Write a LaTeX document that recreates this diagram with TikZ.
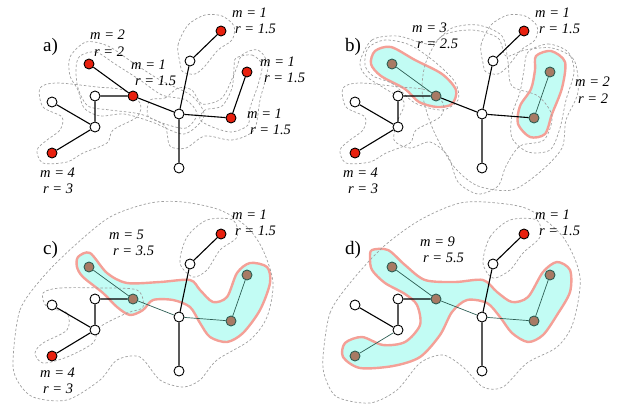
\documentclass[tikz,border=0pt]{standalone}
\usepackage{fontspec}
\setmainfont{Liberation Serif}
\definecolor{nodered}{HTML}{E8200E}
\definecolor{nodebrn}{HTML}{A87A64}
\definecolor{nodeteal}{HTML}{2D5E54}
\definecolor{clusfill}{HTML}{C2FCF4}
\definecolor{clusedge}{HTML}{F4A097}
\tikzset{
  tnode/.style={circle,draw,line width=0.9pt,inner sep=0pt,minimum size=10pt,fill=white},
  rednd/.style={fill=nodered},
  brnnd/.style={fill=nodebrn,draw=nodeteal},
  tree/.style={line width=1.1pt},
  clus/.style={draw=nodeteal,line width=0.7pt},
  ball/.style={draw=gray!75,dash pattern=on 2.5pt off 2pt,line width=0.7pt},
  merged/.style={fill=clusfill,draw=clusedge,line width=2.4pt},
  lbl/.style={font=\fontsize{14.5}{16.5}\selectfont\itshape,align=left,anchor=west,inner sep=0pt},
  panel/.style={font=\fontsize{19}{19}\selectfont,anchor=west,inner sep=0pt}
}
\begin{document}
\begin{tikzpicture}[x=1pt,y=-1pt]
\useasboundingbox (0,0) rectangle (628,407);
% a) balls of single nodes
\draw[ball] plot[smooth cycle] coordinates {(180,63) (178,45) (188,25) (205,15) (222,16) (234,26) (232,40) (218,50) (205,66) (195,74) (183,72)};
\draw[ball] plot[smooth cycle] coordinates {(236,58) (252,55) (262,65) (258,85) (250,108) (248,125) (232,132) (215,128) (200,120) (205,110) (222,106) (232,88) (234,68)};
\draw[ball] plot[smooth cycle] coordinates {(150,100) (165,98) (178,88) (192,90) (202,104) (222,98) (235,72) (242,55) (258,50) (268,66) (260,100) (254,130) (232,140) (205,136) (186,148) (170,146) (165,126) (148,116)};
\draw[ball] plot[smooth cycle] coordinates {(80,56) (96,52) (115,64) (140,80) (162,95) (186,100) (197,114) (186,128) (165,124) (140,114) (110,110) (88,106) (78,88) (76,68)};
\draw[ball] plot[smooth cycle] coordinates {(70,57) (86,42) (108,46) (132,62) (160,80) (192,96) (204,116) (184,134) (152,122) (124,114) (100,116) (84,108) (78,90) (70,76)};
\draw[ball] plot[smooth cycle] coordinates {(40,88) (57,83) (97,87) (123,90) (140,103) (137,117) (113,130) (107,143) (83,153) (67,162) (43,163) (37,150) (47,140) (60,130) (62,117) (43,107)};
% b) two merged clusters
\filldraw[merged] plot[smooth cycle] coordinates {(375,51) (391,47) (415,60) (442,74) (456,90) (452,104) (437,107) (419,102) (405,89) (381,76) (371,64)};
\filldraw[merged] plot[smooth cycle] coordinates {(536,56) (551,51) (565,62) (562,88) (552,114) (545,134) (530,137) (518,124) (520,106) (531,89) (535,70)};
\draw[ball] plot[smooth cycle] coordinates {(483,63) (481,45) (491,25) (508,15) (525,16) (537,26) (535,40) (521,50) (508,66) (498,74) (486,72)};
\draw[ball] plot[smooth cycle] coordinates {(343,88) (360,83) (400,87) (426,90) (443,103) (440,117) (416,130) (410,143) (386,153) (370,162) (346,163) (340,150) (350,140) (363,130) (365,117) (346,107)};
\draw[ball] plot[smooth cycle] coordinates {(365,65) (368,48) (385,40) (410,45) (435,62) (455,82) (458,100) (442,110) (415,103) (393,84) (373,76)};
\draw[ball] plot[smooth cycle] coordinates {(528,52) (548,44) (568,52) (574,72) (566,100) (560,128) (550,150) (528,152) (512,138) (512,115) (520,92) (524,70)};
\draw[ball] plot[smooth cycle] coordinates {(426,62) (442,36) (472,30) (498,38) (506,56) (525,50) (552,48) (574,60) (578,92) (566,120) (562,148) (540,172) (512,190) (478,186) (455,168) (438,140) (428,116) (422,90)};
\draw[ball] plot[smooth cycle] coordinates {(360,62) (372,40) (398,36) (430,44) (452,28) (478,25) (502,36) (508,62) (512,86) (538,96) (552,116) (544,140) (520,146) (506,166) (498,186) (478,194) (458,182) (448,156) (430,142) (410,148) (394,140) (398,120) (404,102) (384,88) (366,76)};
% c) five nodes merged
\filldraw[merged] plot[smooth cycle] coordinates {(78,257) (90,253) (107,273) (127,283) (160,282) (190,280) (200,290) (213,302) (227,297) (237,273) (250,263) (267,267) (270,283) (260,310) (243,333) (227,342) (210,337) (200,323) (190,307) (173,300) (153,300) (143,310) (130,315) (117,307) (103,293) (83,277) (77,267)};
\draw[ball] plot[smooth cycle] coordinates {(13,360) (20,310) (43,277) (73,247) (110,217) (150,203) (183,202) (220,210) (247,227) (263,250) (273,283) (267,317) (250,340) (217,360) (200,380) (183,387) (160,380) (140,357) (117,360) (100,380) (67,400) (33,397) (17,380)};
\draw[ball] plot[smooth cycle] coordinates {(180,263) (187,237) (207,220) (233,220) (237,237) (220,250) (207,270) (193,277)};
\draw[ball] plot[smooth cycle] coordinates {(43,293) (60,288) (100,288) (137,290) (143,307) (127,313) (100,327) (93,343) (67,357) (43,363) (35,353) (43,343) (67,330) (67,313) (47,307)};
% d) nine nodes merged
\filldraw[merged] plot[smooth cycle] coordinates {(372,250) (388,250) (405,265) (425,280) (455,282) (483,280) (497,292) (512,302) (528,297) (543,272) (557,262) (570,270) (570,292) (557,315) (543,335) (528,342) (512,333) (500,317) (487,303) (467,300) (452,312) (440,335) (420,357) (393,366) (360,368) (343,357) (345,343) (362,337) (383,345) (405,342) (420,325) (417,305) (405,294) (385,283) (372,270) (370,258)};
\draw[ball] plot[smooth cycle] coordinates {(323,357) (330,313) (350,283) (383,247) (420,220) (460,203) (497,203) (530,210) (563,237) (580,277) (573,323) (557,347) (527,363) (503,387) (483,387) (463,367) (443,355) (420,363) (397,390) (370,403) (337,397) (325,377)};
\draw[ball] plot[smooth cycle] coordinates {(483,263) (490,237) (510,220) (537,220) (540,237) (523,253) (510,270) (493,278)};
% the tree, once per panel
\foreach \p/\dx/\dy/\ns/\gs/\ea/\eb/\ec in {a/0/0/rednd/rednd/tree/tree/tree, b/303/0/brnnd/rednd/clus/tree/tree, c/0/203/brnnd/rednd/clus/clus/tree, d/303/203/brnnd/brnnd/clus/clus/clus}{
\begin{scope}[shift={(\dx,\dy)}]
\node[tnode,rednd] (\p-t1) at (221,31) {};
\node[tnode] (\p-t2) at (190,61) {};
\node[tnode,\ns] (\p-t3) at (247,72) {};
\node[tnode,\ns] (\p-t4) at (231,118) {};
\node[tnode] (\p-c) at (179,114) {};
\node[tnode] (\p-b) at (179,168) {};
\node[tnode,\ns] (\p-m) at (133,96) {};
\node[tnode,\ns] (\p-k) at (89,64) {};
\node[tnode] (\p-w) at (95,96) {};
\node[tnode] (\p-f) at (52,102) {};
\node[tnode] (\p-l) at (95,127) {};
\node[tnode,\gs] (\p-g) at (52,153) {};
\draw[tree] (\p-t1) -- (\p-t2) -- (\p-c) -- (\p-b);
\draw[tree] (\p-m) -- (\p-w) -- (\p-l) -- (\p-f);
\draw[\ea] (\p-k) -- (\p-m);
\draw[\ea] (\p-t3) -- (\p-t4);
\draw[\eb] (\p-m) -- (\p-c);
\draw[\eb] (\p-c) -- (\p-t4);
\draw[\ec] (\p-l) -- (\p-g);
\end{scope}
}
% labels
\node[panel] (pa) at (43,47) {a)};
\node[panel] (pb) at (345,47) {b)};
\node[panel] (pc) at (43,250) {c)};
\node[panel] (pd) at (345,250) {d)};
\node[lbl] (a-l1) at (90,43) {m = 2\\\hspace*{4pt}r = 2};
\node[lbl] (a-l2) at (131,73) {m = 1\\\hspace*{4pt}r = 1.5};
\node[lbl] (a-l3) at (232,21) {m = 1\\\hspace*{3pt}r = 1.5};
\node[lbl] (a-l4) at (260,70) {m = 1\\\hspace*{4pt}r = 1.5};
\node[lbl] (a-l5) at (247,122) {m = 1\\\hspace*{3pt}r = 1.5};
\node[lbl] (a-l6) at (40,181) {m = 4\\\hspace*{3pt}r = 3};
\node[lbl] (b-l1) at (412,36) {m = 3\\\hspace*{5pt}r = 2.5};
\node[lbl] (b-l2) at (535,21) {m = 1\\\hspace*{4pt}r = 1.5};
\node[lbl] (b-l3) at (575,90) {m = 2\\\hspace*{3pt}r = 2};
\node[lbl] (b-l4) at (343,181) {m = 4\\\hspace*{5pt}r = 3};
\node[lbl] (c-l1) at (109,243) {m = 5\\\hspace*{4pt}r = 3.5};
\node[lbl] (c-l2) at (232,223) {m = 1\\\hspace*{3pt}r = 1.5};
\node[lbl] (c-l3) at (40,381) {m = 4\\\hspace*{3pt}r = 3};
\node[lbl] (d-l1) at (420,250) {m = 9\\\hspace*{3pt}r = 5.5};
\node[lbl] (d-l2) at (535,223) {m = 1\\\hspace*{4pt}r = 1.5};
\end{tikzpicture}
\end{document}
